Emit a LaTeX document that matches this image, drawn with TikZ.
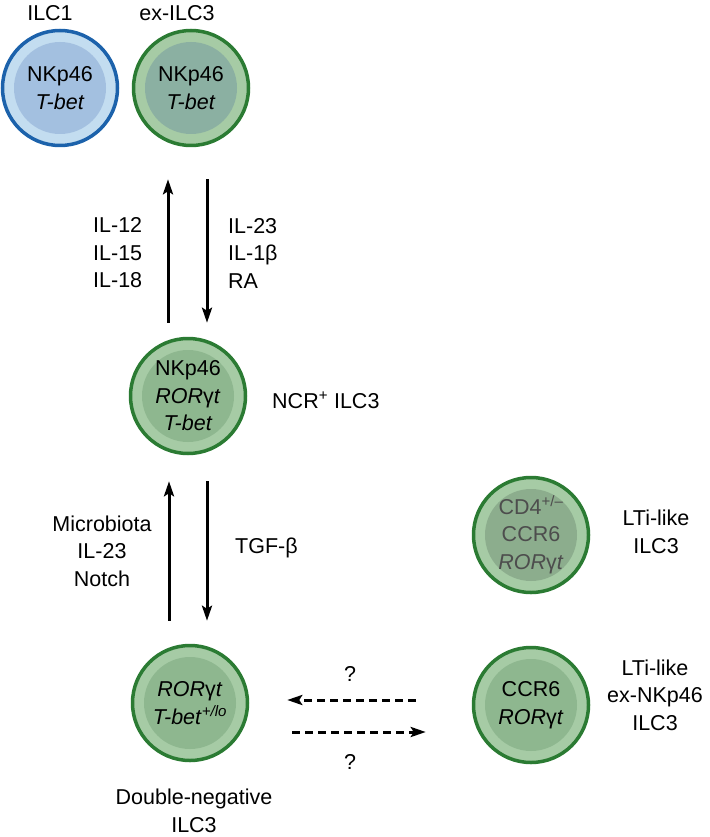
\documentclass[tikz,border=0pt]{standalone}
\usepackage{fontspec}
\setmainfont{Liberation Sans}
\usetikzlibrary{arrows.meta}
\definecolor{ilcblue}{HTML}{1C62AB}
\definecolor{ilcbluelight}{HTML}{C3DDF0}
\definecolor{ilcbluemid}{HTML}{A3C0E0}
\definecolor{ilcgreen}{HTML}{2B7B33}
\definecolor{ilcgreenlight}{HTML}{A6CBA5}
\definecolor{ilcgreenmid}{HTML}{8EB78F}
\definecolor{ilcteal}{HTML}{8BB0A2}
\definecolor{ilcgrey}{HTML}{8CAD8D}
\definecolor{ltitext}{HTML}{4D4D4D}
\tikzset{
	cell/.style n args={3}{
			circle, minimum size=115pt, inner sep=0pt, line width=3.5pt,
			draw=#1, fill=#2, align=center, font=\cellfont,
			path picture={\fill[#3] (path picture bounding box.center) circle (46pt);}
		},
	bluecell/.style={cell={ilcblue}{ilcbluelight}{ilcbluemid}},
	greencell/.style={cell={ilcgreen}{ilcgreenlight}{ilcgreenmid}},
	label/.style={font=\cellfont, inner sep=0pt},
	flow/.style={line width=3pt, -{Stealth[length=15pt, width=10pt, inset=3pt]}},
	dflow/.style={flow, dash pattern=on 8pt off 5pt}
}
\newcommand{\cellfont}{\fontsize{21.5}{27.5}\selectfont}

\begin{document}
\begin{tikzpicture}[x=1pt, y=-1pt]
	\useasboundingbox (0, 0) rectangle (709, 837);

	\node[bluecell] (ilc) at (60, 88) {NKp46\\\textit{T-bet}};
	\node[cell={ilcgreen}{ilcgreenlight}{ilcteal}] (exilc) at (191, 88) {NKp46\\\textit{T-bet}};
	\node[greencell] (ncr) at (188, 396) {NKp46\\\textit{ROR}γ\textit{t}\\\textit{T-bet}};
	\node[greencell] (dn) at (190, 703) {\textit{ROR}γ\textit{t}\\\textit{T-bet}\textsuperscript{\textit{+/lo}}};
	\node[cell={ilcgreen}{ilcgreenlight}{ilcgrey}, text=ltitext] (lti) at (531, 535) {CD4\textsuperscript{+/–}\\CCR6\\\textit{ROR}γ\textit{t}};
	\node[greencell] (exnk) at (531, 705) {CCR6\\\textit{ROR}γ\textit{t}};

	\node[label] (ilclab) at (50, 13) {ILC1};
	\node[label] (exilclab) at (177, 13) {ex-ILC3};
	\node[label, anchor=west] (ncrlab) at (272, 400) {NCR\textsuperscript{+} ILC3};
	\node[label, align=center] (ltilab) at (656, 532) {LTi-like\\ILC3};
	\node[label, align=center] (exnklab) at (655, 695) {LTi-like\\ex-NKp46\\ILC3};
	\node[label, align=center] (dnlab) at (194, 811) {Double-negative\\ILC3};

	\draw[flow] ([shift={(-20,-14)}]ncr.north) -- ([shift={(-23,32)}]exilc.south);
	\draw[flow] ([shift={(16,32)}]exilc.south) -- ([shift={(19,-14)}]ncr.north);
	\node[label, anchor=west, align=left] (uplab) at (93, 253) {IL-12\\IL-15\\IL-18};
	\node[label, anchor=west, align=left] (downlab) at (228, 253) {IL-23\\IL-1β\\RA};

	\draw[flow] ([shift={(-21,-23)}]dn.north) -- ([shift={(-19,26)}]ncr.south);
	\draw[flow] ([shift={(19,26)}]ncr.south) -- ([shift={(17,-23)}]dn.north);
	\node[label, align=center] (uplab2) at (102, 551) {Microbiota\\IL-23\\Notch};
	\node[label, anchor=west] (downlab2) at (235, 548) {TGF-β};

	\draw[dflow] ([shift={(-56,-5)}]exnk.west) -- ([shift={(38,-3)}]dn.east);
	\draw[dflow] ([shift={(43,29)}]dn.east) -- ([shift={(-46,27)}]exnk.west);
	\node[label] (q1) at (350, 674) {?};
	\node[label] (q2) at (350, 762) {?};
\end{tikzpicture}
\end{document}
